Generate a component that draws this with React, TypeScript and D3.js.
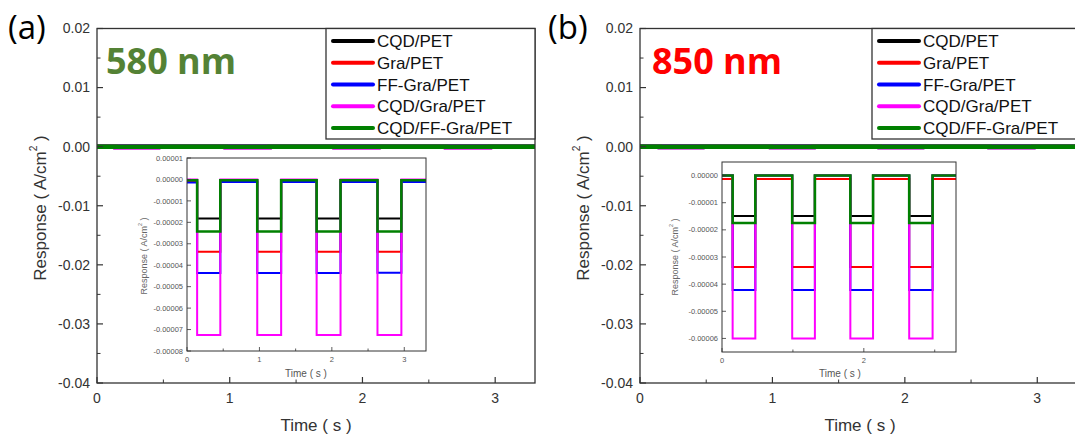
import React from "react";
import * as d3 from "d3";

// ---------- data ----------
const seriesNames = ["CQD/PET", "Gra/PET", "FF-Gra/PET", "CQD/Gra/PET", "CQD/FF-Gra/PET"];
const seriesColors = ["#000000", "#ff0000", "#0000ff", "#ff00ff", "#008000"];

// switching times (s): dark | light | dark | light ...
const edgesA = [0, 0.14, 0.46, 0.97, 1.3, 1.79, 2.12, 2.63, 2.96, 3.3];
const edgesB = [0, 0.15, 0.47, 0.99, 1.31, 1.81, 2.13, 2.64, 2.97, 3.3];

// response (A/cm²) for each segment, 580 nm
const cqdPetA = [-0.0000003, -0.0000182, -0.0000003, -0.0000182, -0.0000003, -0.0000182, -0.0000003, -0.0000182, -0.0000003];
const graPetA = [-0.000001, -0.0000337, -0.000001, -0.0000337, -0.000001, -0.0000337, -0.000001, -0.0000337, -0.000001];
const ffGraPetA = [-0.0000014, -0.0000436, -0.0000012, -0.0000436, -0.0000012, -0.0000436, -0.0000012, -0.0000435, -0.0000012];
const cqdGraPetA = [0, -0.0000725, 0, -0.0000725, 0, -0.0000725, 0, -0.0000725, 0];
const cqdFfGraPetA = [-0.0000004, -0.0000243, -0.0000004, -0.0000243, -0.0000004, -0.0000243, -0.0000004, -0.0000243, -0.0000004];

// response (A/cm²) for each segment, 850 nm
const cqdPetB = [0, -0.0000149, 0, -0.0000149, 0, -0.0000149, 0, -0.0000149, 0];
const graPetB = [-0.0000013, -0.0000337, -0.0000013, -0.0000337, -0.0000013, -0.0000337, -0.0000013, -0.0000337, -0.0000013];
const ffGraPetB = [0, -0.0000422, 0, -0.0000422, 0, -0.0000422, 0, -0.0000422, 0];
const cqdGraPetB = [0, -0.00006, 0, -0.00006, 0, -0.00006, 0, -0.00006, 0];
const cqdFfGraPetB = [0, -0.0000175, 0, -0.0000175, 0, -0.0000175, 0, -0.0000175, 0];

// tick values
const mainXTicks = [0, 1, 2, 3];
const mainXMinor = [0.5, 1.5, 2.5];
const mainYTicks = [0.02, 0.01, 0, -0.01, -0.02, -0.03, -0.04];
const mainYMinor = [0.015, 0.005, -0.005, -0.015, -0.025, -0.035];
const insetAXTicks = [0, 1, 2, 3];
const insetAXMinor = [0.5, 1.5, 2.5];
const insetAYTicks = [0.00001, 0, -0.00001, -0.00002, -0.00003, -0.00004, -0.00005, -0.00006, -0.00007, -0.00008];
const insetBXTicks = [0, 2];
const insetBXMinor = [1, 3];
const insetBYTicks = [0, -0.00001, -0.00002, -0.00003, -0.00004, -0.00005, -0.00006];

const seriesA = [cqdPetA, graPetA, ffGraPetA, cqdGraPetA, cqdFfGraPetA];
const seriesB = [cqdPetB, graPetB, ffGraPetB, cqdGraPetB, cqdFfGraPetB];

// ---------- helpers ----------
type Box = { left: number; right: number; top: number; bottom: number };

function toPoints(edges: number[], levels: number[]): [number, number][] {
  const pts: [number, number][] = [];
  levels.forEach((v, i) => {
    pts.push([edges[i], v]);
    pts.push([edges[i + 1], v]);
  });
  return pts;
}

const AXIS = "#333333";
const TEXT = "#333333";
const FONT = "'Liberation Sans', Arial, sans-serif";

function fmtSmall(v: number) {
  const s = d3.format(".5f")(Math.abs(v) < 1e-12 ? 0 : v);
  return s.replace("−", "-");
}

function Axes(props: {
  id: string;
  box: Box;
  xDomain: [number, number];
  yDomain: [number, number];
  xTicks: number[];
  xMinor: number[];
  yTicks: number[];
  yMinor: number[];
  edges: number[];
  series: number[][];
  inset: boolean;
}) {
  const { id, box, xDomain, yDomain, xTicks, xMinor, yTicks, yMinor, edges, series, inset } = props;
  const x = d3.scaleLinear().domain(xDomain).range([box.left, box.right]);
  const y = d3.scaleLinear().domain(yDomain).range([box.bottom, box.top]);
  const line = d3
    .line<[number, number]>()
    .x((d) => x(d[0]))
    .y((d) => y(d[1]));
  const majorLen = inset ? 4 : 6;
  const minorLen = inset ? 2.5 : 3.5;
  const tickFont = inset ? 7.5 : 14;
  const tickColor = inset ? "#555" : TEXT;
  const yfmt = inset ? fmtSmall : (v: number) => d3.format(".2f")(Math.abs(v) < 1e-12 ? 0 : v).replace("−", "-");
  return (
    <g>
      <defs>
        <clipPath id={id}>
          <rect x={box.left} y={box.top} width={box.right - box.left} height={box.bottom - box.top} />
        </clipPath>
      </defs>
      {inset && (
        <rect x={box.left} y={box.top} width={box.right - box.left} height={box.bottom - box.top} fill="#fff" />
      )}
      <g clipPath={`url(#${id})`}>
        {series.map((lv, i) => (
          <path
            key={i}
            d={line(toPoints(edges, lv)) || ""}
            fill="none"
            stroke={seriesColors[i]}
            strokeWidth={inset ? (i === 4 ? 2.6 : 2) : 4.6}
            strokeLinejoin="miter"
          />
        ))}
      </g>
      <rect
        x={box.left}
        y={box.top}
        width={box.right - box.left}
        height={box.bottom - box.top}
        fill="none"
        stroke={AXIS}
        strokeWidth={inset ? 1 : 1.3}
      />
      {xTicks.map((t) => (
        <g key={"xt" + t}>
          <line x1={x(t)} x2={x(t)} y1={box.bottom} y2={box.bottom - majorLen} stroke={AXIS} strokeWidth={inset ? 0.8 : 1.2} />
          <text
            x={x(t)}
            y={box.bottom + (inset ? 11 : 20)}
            textAnchor="middle"
            fontSize={tickFont}
            fill={tickColor}
            fontFamily={FONT}
          >
            {String(t)}
          </text>
        </g>
      ))}
      {xMinor.map((t) => (
        <line key={"xm" + t} x1={x(t)} x2={x(t)} y1={box.bottom} y2={box.bottom - minorLen} stroke={AXIS} strokeWidth={inset ? 0.8 : 1} />
      ))}
      {yTicks.map((t) => (
        <g key={"yt" + t}>
          <line x1={box.left} x2={box.left + majorLen} y1={y(t)} y2={y(t)} stroke={AXIS} strokeWidth={inset ? 0.8 : 1.2} />
          <text
            x={box.left - (inset ? 4 : 7)}
            y={y(t)}
            dy="0.35em"
            textAnchor="end"
            fontSize={tickFont}
            fill={tickColor}
            fontFamily={FONT}
          >
            {yfmt(t)}
          </text>
        </g>
      ))}
      {yMinor.map((t) => (
        <line key={"ym" + t} x1={box.left} x2={box.left + minorLen} y1={y(t)} y2={y(t)} stroke={AXIS} strokeWidth={inset ? 0.8 : 1} />
      ))}
    </g>
  );
}

function YTitle(props: { x: number; y: number; size: number; color: string }) {
  const { x, y, size, color } = props;
  return (
    <text
      transform={`translate(${x},${y}) rotate(-90)`}
      textAnchor="middle"
      dominantBaseline="central"
      fontSize={size}
      fill={color}
      fontFamily={FONT}
    >
      Response ( A/cm
      <tspan dy={-size * 0.4} fontSize={size * 0.6}>
        2
      </tspan>
      <tspan dy={size * 0.4}> )</tspan>
    </text>
  );
}

function Legend(props: { left: number; right: number; top: number; bottom: number; lineX: number }) {
  const { left, right, top, bottom, lineX } = props;
  const rowY = d3.scaleLinear().domain([0, 4]).range([top + 12.5, top + 99.5]);
  return (
    <g>
      <rect x={left} y={top} width={right - left} height={bottom - top} fill="#fff" stroke={AXIS} strokeWidth={1.3} />
      {seriesNames.map((n, i) => (
        <g key={n}>
          <line x1={lineX} x2={lineX + 40} y1={rowY(i)} y2={rowY(i)} stroke={seriesColors[i]} strokeWidth={4} strokeLinecap="round" />
          <text x={lineX + 44} y={rowY(i)} dy="0.36em" fontSize={17} fill="#111" fontFamily={FONT}>
            {n}
          </text>
        </g>
      ))}
    </g>
  );
}

export default function App() {
  const mainA: Box = { left: 97, right: 535, top: 28.5, bottom: 383 };
  const mainB: Box = { left: 640, right: 1077, top: 28.5, bottom: 383 };
  const insetA: Box = { left: 187, right: 426, top: 158, bottom: 351 };
  const insetB: Box = { left: 722, right: 956, top: 162, bottom: 352 };
  return (
    <svg
      width={1075}
      height={439}
      style={{ position: "absolute", left: 0, top: 0, display: "block", background: "#fff" }}
    >
      <rect x={0} y={0} width={1075} height={439} fill="#fff" />
      {/* panel (a) */}
      <Axes
        id="ca"
        box={mainA}
        xDomain={[0, 3.3]}
        yDomain={[-0.04, 0.02]}
        xTicks={mainXTicks}
        xMinor={mainXMinor}
        yTicks={mainYTicks}
        yMinor={mainYMinor}
        edges={edgesA}
        series={seriesA}
        inset={false}
      />
      <Legend left={326} right={535} top={28.5} bottom={139} lineX={333} />
      <text x={106} y={74} fontSize={36} fontWeight="bold" fill="#548235" fontFamily="'Open Sans', sans-serif">
        580 nm
      </text>
      <text x={8} y={39} fontSize={33} fill="#000" fontFamily="'Open Sans', sans-serif">
        (a)
      </text>
      <YTitle x={40} y={208} size={17} color={TEXT} />
      <text x={316} y={431} textAnchor="middle" fontSize={17} fill={TEXT} fontFamily={FONT}>
        Time ( s )
      </text>
      <Axes
        id="cia"
        box={insetA}
        xDomain={[0, 3.3]}
        yDomain={[-0.00008, 0.00001]}
        xTicks={insetAXTicks}
        xMinor={insetAXMinor}
        yTicks={insetAYTicks}
        yMinor={[]}
        edges={edgesA}
        series={seriesA}
        inset={true}
      />
      <YTitle x={144} y={256} size={9} color="#666" />
      <text x={306} y={377} textAnchor="middle" fontSize={10} fill="#555" fontFamily={FONT}>
        Time ( s )
      </text>

      {/* panel (b) */}
      <Axes
        id="cb"
        box={mainB}
        xDomain={[0, 3.3]}
        yDomain={[-0.04, 0.02]}
        xTicks={mainXTicks}
        xMinor={mainXMinor}
        yTicks={mainYTicks}
        yMinor={mainYMinor}
        edges={edgesB}
        series={seriesB}
        inset={false}
      />
      <Legend left={872} right={1085} top={28.5} bottom={139} lineX={879} />
      <text x={652} y={74} fontSize={36} fontWeight="bold" fill="#ff0000" fontFamily="'Open Sans', sans-serif">
        850 nm
      </text>
      <text x={548} y={39} fontSize={33} fill="#000" fontFamily="'Open Sans', sans-serif">
        (b)
      </text>
      <YTitle x={583} y={208} size={17} color={TEXT} />
      <text x={860} y={431} textAnchor="middle" fontSize={17} fill={TEXT} fontFamily={FONT}>
        Time ( s )
      </text>
      <Axes
        id="cib"
        box={insetB}
        xDomain={[0, 3.3]}
        yDomain={[-0.000065, 0.000005]}
        xTicks={insetBXTicks}
        xMinor={insetBXMinor}
        yTicks={insetBYTicks}
        yMinor={[]}
        edges={edgesB}
        series={seriesB}
        inset={true}
      />
      <YTitle x={675} y={257} size={9} color="#666" />
      <text x={840} y={377} textAnchor="middle" fontSize={10} fill="#555" fontFamily={FONT}>
        Time ( s )
      </text>
    </svg>
  );
}
